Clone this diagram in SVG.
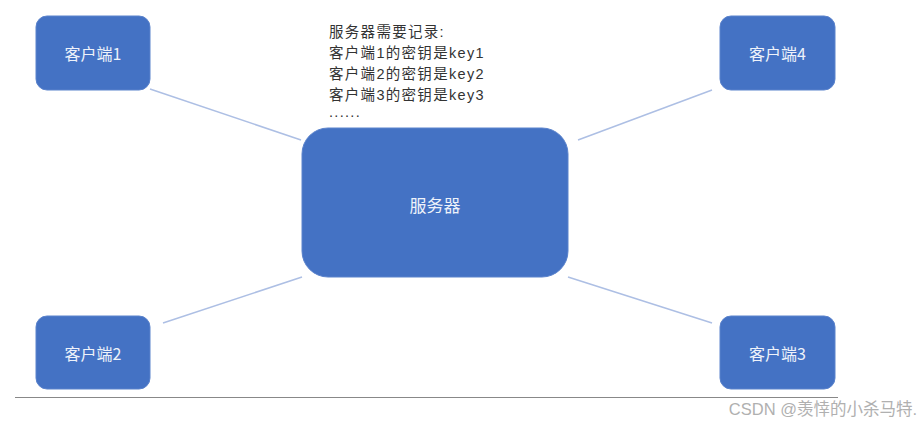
<svg xmlns="http://www.w3.org/2000/svg" width="919" height="423" viewBox="0 0 919 423">
<style>
.box{fill:#4472c4;stroke:#5b83cc;stroke-width:1}
.lbl{font-family:"Noto Sans CJK SC","Liberation Sans",sans-serif;fill:#eef2fa;text-anchor:middle;dominant-baseline:central}
.con{stroke:#adbfe4;stroke-width:1.5;fill:none}
.note{font-family:"Liberation Sans","Noto Sans CJK SC",sans-serif;font-size:14.5px;letter-spacing:1.3px;fill:#333}
</style>
<rect width="919" height="423" fill="#fff"/>
<g id="connectors">
<line class="con" x1="150" y1="89" x2="301" y2="140"/>
<line class="con" x1="712" y1="90" x2="578" y2="140"/>
<line class="con" x1="163" y1="323" x2="302" y2="277"/>
<line class="con" x1="568" y1="277" x2="712" y2="323"/>
</g>
<g id="client1">
<rect class="box" x="36" y="16" width="114" height="74" rx="11"/>
<text class="lbl" x="93" y="53" font-size="16">客户端1</text>
</g>
<g id="client4">
<rect class="box" x="720" y="16" width="115" height="74" rx="11"/>
<text class="lbl" x="777.5" y="53" font-size="16">客户端4</text>
</g>
<g id="client2">
<rect class="box" x="36" y="316" width="114" height="73" rx="11"/>
<text class="lbl" x="93" y="353" font-size="16">客户端2</text>
</g>
<g id="client3">
<rect class="box" x="720" y="316" width="115" height="73" rx="11"/>
<text class="lbl" x="777.5" y="353" font-size="16">客户端3</text>
</g>
<g id="server">
<rect class="box" x="302" y="128" width="266" height="149" rx="26"/>
<text class="lbl" x="435" y="204" font-size="17">服务器</text>
</g>
<g id="note">
<text class="note" x="329" y="37">服务器需要记录:</text>
<text class="note" x="329" y="58">客户端1的密钥是key1</text>
<text class="note" x="329" y="79">客户端2的密钥是key2</text>
<text class="note" x="329" y="100">客户端3的密钥是key3</text>
<text class="note" x="329" y="117" font-size="9" letter-spacing="0.5">......</text>
</g>
<line x1="15" y1="397.5" x2="838" y2="397.5" stroke="#888" stroke-width="1.2"/>
<text x="917" y="415" font-family="'Liberation Sans','Noto Sans CJK SC',sans-serif" font-size="16.5" fill="#b0b0b0" text-anchor="end">CSDN @羡悻的小杀马特.</text>
</svg>
